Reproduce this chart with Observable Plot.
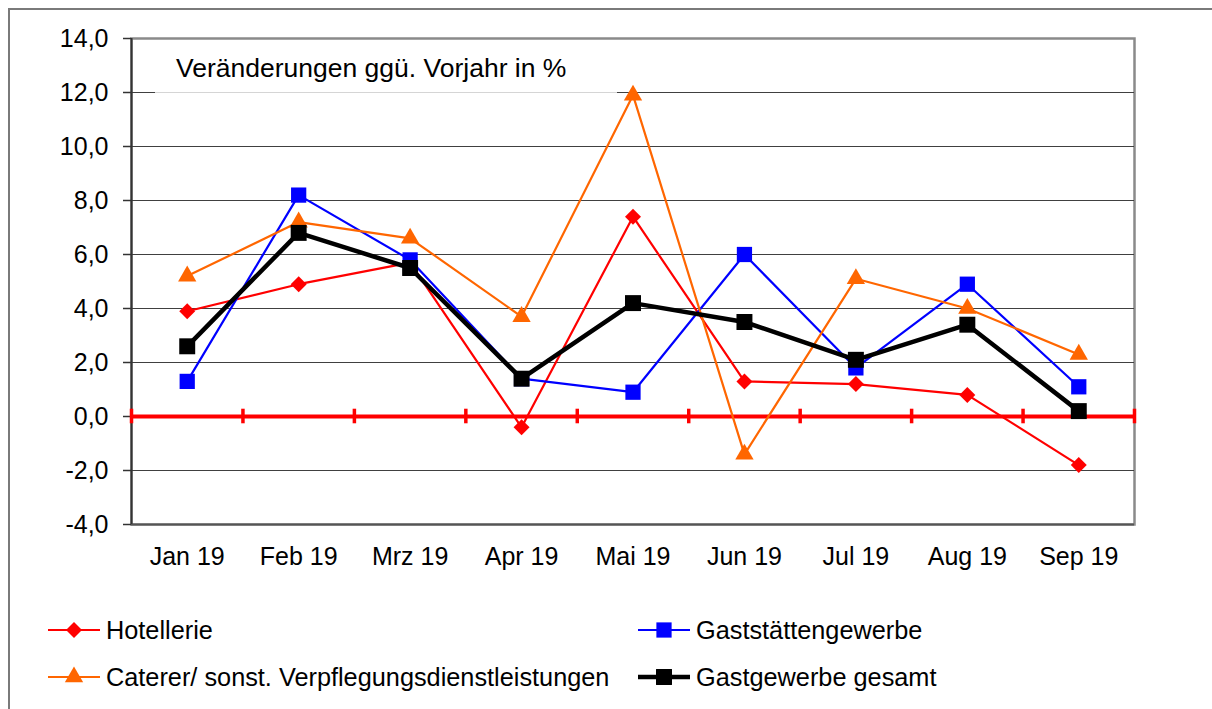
<!DOCTYPE html>
<html>
<head>
<meta charset="utf-8">
<script src="https://cdn.jsdelivr.net/npm/d3@7"></script>
<script src="https://cdn.jsdelivr.net/npm/@observablehq/plot@0.6"></script>
<style>
  html, body { margin: 0; padding: 0; background: #fff; overflow: hidden; }
  body { width: 1212px; height: 709px; position: relative; font-family: "Liberation Sans", Arial, sans-serif; }
  #outer { position: absolute; left: 8px; top: 8px; width: 1300px; height: 800px; border: 2px solid #7a7a7a; box-sizing: border-box; }
  #chart { position: absolute; left: 0; top: 0; }
  #title { position: absolute; left: 155px; top: 42px; width: 462px; height: 54px; background: rgba(255,255,255,0.78);
           font-size: 26.5px; line-height: 26px; color: #000; }
  #title span { position: absolute; left: 21px; top: 13px; white-space: nowrap; }
  .item { position: absolute; height: 30px; display: flex; align-items: center; font-size: 25.3px; color: #000; white-space: nowrap; }
  .item svg { margin-right: 6px; }
</style>
</head>
<body>
<div id="outer"></div>
<div id="chart"></div>
<div id="title"><span>Veränderungen ggü. Vorjahr in %</span></div>
<div id="legend"></div>
<script>
const months = ["Jan 19", "Feb 19", "Mrz 19", "Apr 19", "Mai 19", "Jun 19", "Jul 19", "Aug 19", "Sep 19"];
const hotellerie   = [3.9, 4.9, 5.7, -0.4, 7.4, 1.3, 1.2, 0.8, -1.8];
const gaststaetten = [1.3, 8.2, 5.8, 1.4, 0.9, 6.0, 1.8, 4.9, 1.1];
const caterer      = [5.2, 7.2, 6.6, 3.7, 11.9, -1.4, 5.1, 4.0, 2.3];
const gesamt       = [2.6, 6.8, 5.5, 1.4, 4.2, 3.5, 2.1, 3.4, 0.2];
const seriesNames  = ["Hotellerie", "Gaststättengewerbe", "Caterer/ sonst. Verpflegungsdienstleistungen", "Gastgewerbe gesamt"];
const seriesValues = [hotellerie, gaststaetten, caterer, gesamt];
const yTicks = [-4, -2, 0, 2, 4, 6, 8, 10, 12, 14];

const colors  = ["#ff0000", "#0000ff", "#ff6600", "#000000"];
const symbols = ["diamond2", "square", "triangle", "square"];
const d3Symbols = {diamond2: d3.symbolDiamond2, square: d3.symbolSquare, triangle: d3.symbolTriangle};
const radii   = [7.2, 8.6, 6.8, 9.0];
const widths  = [2.2, 2.2, 2.2, 4.5];

const idx = d3.range(months.length);
const boundaries = d3.range(months.length + 1).map(i => i - 0.5);

const marks = [
  Plot.frame({stroke: "#8a8a8a", strokeWidth: 2.5}),
  Plot.ruleY(yTicks.filter(v => v > -4 && v < 14 && v !== 0), {stroke: "#404040", strokeWidth: 1.2}),
  Plot.ruleY([-4], {stroke: "#555", strokeWidth: 2}),
  Plot.ruleX([-0.5], {stroke: "#333", strokeWidth: 2}),
  Plot.axisY({ticks: yTicks, tickFormat: d => d.toFixed(1).replace(".", ","), tickSize: 8, tickPadding: 15,
              fontSize: 25, stroke: "#333", strokeWidth: 1.5, color: "#000", label: null}),
  Plot.axisX({ticks: idx, tickFormat: i => months[i], tickSize: 0, tickPadding: 23, fontSize: 25, color: "#000", label: null}),
  Plot.ruleY([0], {stroke: "#ff0000", strokeWidth: 4}),
  Plot.ruleX(boundaries, {y1: -0.27, y2: 0.27, stroke: "#ff0000", strokeWidth: 3.5})
];

seriesValues.forEach((vals, s) => {
  const data = idx.map(i => ({i, v: vals[i]}));
  marks.push(Plot.line(data, {x: "i", y: "v", stroke: colors[s], strokeWidth: widths[s]}));
  marks.push(Plot.dot(data, {x: "i", y: "v", symbol: () => symbols[s], fill: colors[s], stroke: "none", r: radii[s]}));
});

const chart = Plot.plot({
  width: 1212,
  height: 580,
  marginLeft: 131,
  marginRight: 78,
  marginTop: 38,
  marginBottom: 56,
  style: {fontFamily: "'Liberation Sans', Arial, sans-serif", fontSize: "25px", background: "transparent", color: "#000"},
  x: {type: "linear", domain: [-0.5, months.length - 0.5], label: null},
  y: {domain: [-4, 14], label: null},
  symbol: {type: "identity"},
  marks
});
document.getElementById("chart").appendChild(chart);

// Legend (HTML below the chart)
const legendPos = [
  {left: 48, top: 615},
  {left: 638, top: 615},
  {left: 48, top: 662},
  {left: 638, top: 662}
];
const legend = document.getElementById("legend");
const ns = "http://www.w3.org/2000/svg";
seriesNames.forEach((name, s) => {
  const item = document.createElement("div");
  item.className = "item";
  item.style.left = legendPos[s].left + "px";
  item.style.top = legendPos[s].top + "px";
  const svg = document.createElementNS(ns, "svg");
  svg.setAttribute("width", 52);
  svg.setAttribute("height", 30);
  const line = document.createElementNS(ns, "line");
  line.setAttribute("x1", 0); line.setAttribute("x2", 52);
  line.setAttribute("y1", 15); line.setAttribute("y2", 15);
  line.setAttribute("stroke", colors[s]);
  line.setAttribute("stroke-width", widths[s]);
  svg.appendChild(line);
  const sym = d3.symbol(d3Symbols[symbols[s]], Math.PI * radii[s] * radii[s])();
  const path = document.createElementNS(ns, "path");
  path.setAttribute("d", sym);
  path.setAttribute("transform", "translate(26,15)");
  path.setAttribute("fill", colors[s]);
  svg.appendChild(path);
  item.appendChild(svg);
  const label = document.createElement("span");
  label.textContent = name;
  item.appendChild(label);
  legend.appendChild(item);
});
</script>
</body>
</html>
